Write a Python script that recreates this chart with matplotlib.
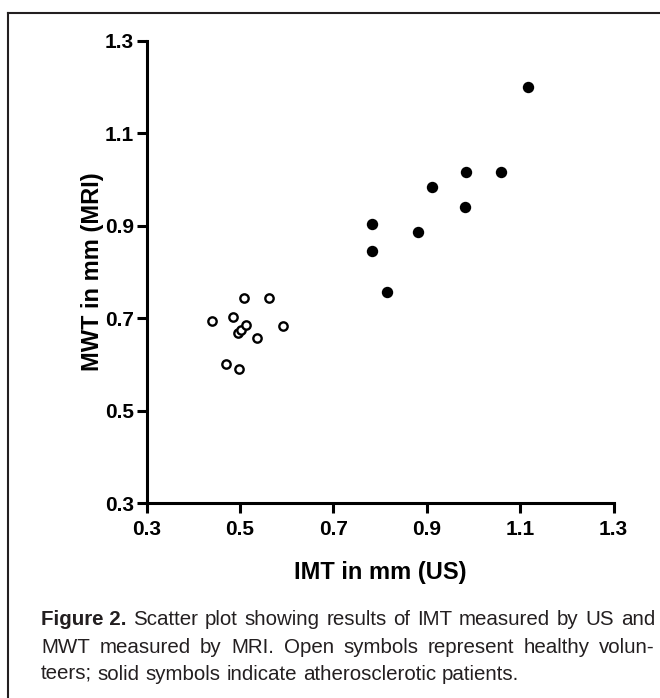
import matplotlib
matplotlib.use("Agg")
import matplotlib.pyplot as plt
from matplotlib.lines import Line2D

plt.rcParams['font.family'] = ['Liberation Sans', 'DejaVu Sans']

# Healthy volunteers (open symbols)
healthy_imt = [0.508, 0.561, 0.439, 0.485, 0.496, 0.503, 0.513, 0.591, 0.536, 0.470, 0.498]
healthy_mwt = [0.744, 0.744, 0.695, 0.702, 0.668, 0.675, 0.686, 0.684, 0.657, 0.602, 0.591]

# Atherosclerotic patients (solid symbols)
patient_imt = [1.116, 0.985, 1.060, 0.911, 0.982, 0.782, 0.882, 0.782, 0.815]
patient_mwt = [1.200, 1.016, 1.016, 0.985, 0.942, 0.904, 0.887, 0.845, 0.757]

ticks = [0.3, 0.5, 0.7, 0.9, 1.1, 1.3]
tick_labels = ["0.3", "0.5", "0.7", "0.9", "1.1", "1.3"]
xlabel = "IMT in mm (US)"
ylabel = "MWT in mm (MRI)"
caption_lines = [
    ([("Figure 2.", "bold"), ("Scatter", "normal"), ("plot", "normal"), ("showing", "normal"),
      ("results", "normal"), ("of", "normal"), ("IMT", "normal"), ("measured", "normal"),
      ("by", "normal"), ("US", "normal"), ("and", "normal")], True),
    ([(w, "normal") for w in "MWT measured by MRI. Open symbols represent healthy volun-".split()], True),
    ([(w, "normal") for w in "teers; solid symbols indicate atherosclerotic patients.".split()], False),
]

W, H = 660, 698
fig = plt.figure(figsize=(W / 100, H / 100), dpi=100)

def fx(px):
    return px / W

def fy(py):
    return 1 - py / H

# outer frame (left and top edges visible)
fig.add_artist(Line2D([fx(8), fx(8)], [fy(12.7), fy(H + 5)], color='#231f20', lw=1.5))
fig.add_artist(Line2D([fx(8), fx(W + 5)], [fy(12.7), fy(12.7)], color='#231f20', lw=1.5))

left, right, top, bottom = 146.7, 613.5, 41, 503.3
ax = fig.add_axes([fx(left), fy(bottom), (right - left) / W, (bottom - top) / H])

ax.plot(healthy_imt, healthy_mwt, linestyle='none', marker='o', markersize=6.0,
        markerfacecolor='white', markeredgecolor='black', markeredgewidth=1.7, clip_on=False)
ax.plot(patient_imt, patient_mwt, linestyle='none', marker='o', markersize=8.2,
        markerfacecolor='black', markeredgewidth=0, clip_on=False)

ax.set_xlim(0.3, 1.3)
ax.set_ylim(0.3, 1.3)
ax.set_xticks(ticks)
ax.set_yticks(ticks)
ax.set_xticklabels(tick_labels, fontsize=15, fontweight='bold')
ax.set_yticklabels(tick_labels, fontsize=15, fontweight='bold')
for s in ['top', 'right']:
    ax.spines[s].set_visible(False)
for s in ['left', 'bottom']:
    ax.spines[s].set_linewidth(2.2)
    ax.spines[s].set_capstyle('projecting')
ax.tick_params(direction='out', length=7, width=2.2)
ax.tick_params(axis='x', pad=5)
ax.tick_params(axis='y', pad=2)

fig.text(fx(380), fy(572), xlabel, fontsize=17, fontweight='bold', ha='center', va='center')
fig.text(fx(93), fy(272), ylabel, fontsize=17, fontweight='bold', ha='center', va='center',
         rotation=90)

# caption with justified lines; font size chosen so line 1 fits naturally
renderer = fig.canvas.get_renderer()
x0, x1 = 41, 655
baselines = [625, 653, 680]
cap_color = '#231f20'

def measure(words, size):
    ts = [fig.text(0, 0, w, fontsize=size, fontweight=wt) for w, wt in words]
    ws = [t.get_window_extent(renderer).width for t in ts]
    for t in ts:
        t.remove()
    return ws

def space_width(size):
    a = fig.text(0, 0, "a a", fontsize=size)
    b = fig.text(0, 0, "aa", fontsize=size)
    w = a.get_window_extent(renderer).width - b.get_window_extent(renderer).width
    a.remove(); b.remove()
    return w

base = 12.0
ws = measure(caption_lines[0][0], base)
natural = sum(ws) + space_width(base) * (len(ws) - 1)
cap_size = base * (x1 - x0) / natural * 0.985
sp = space_width(cap_size)

for (words, justify), yb in zip(caption_lines, baselines):
    texts = [fig.text(0, fy(yb), w, fontsize=cap_size, fontweight=wt, color=cap_color,
                      ha='left', va='baseline') for w, wt in words]
    widths = [t.get_window_extent(renderer).width for t in texts]
    if justify:
        gap = (x1 - x0 - sum(widths)) / (len(texts) - 1)
    else:
        gap = sp
    x = x0
    for t, wd in zip(texts, widths):
        t.set_x(fx(x))
        x += wd + gap

fig.savefig("out.png", dpi=100)
